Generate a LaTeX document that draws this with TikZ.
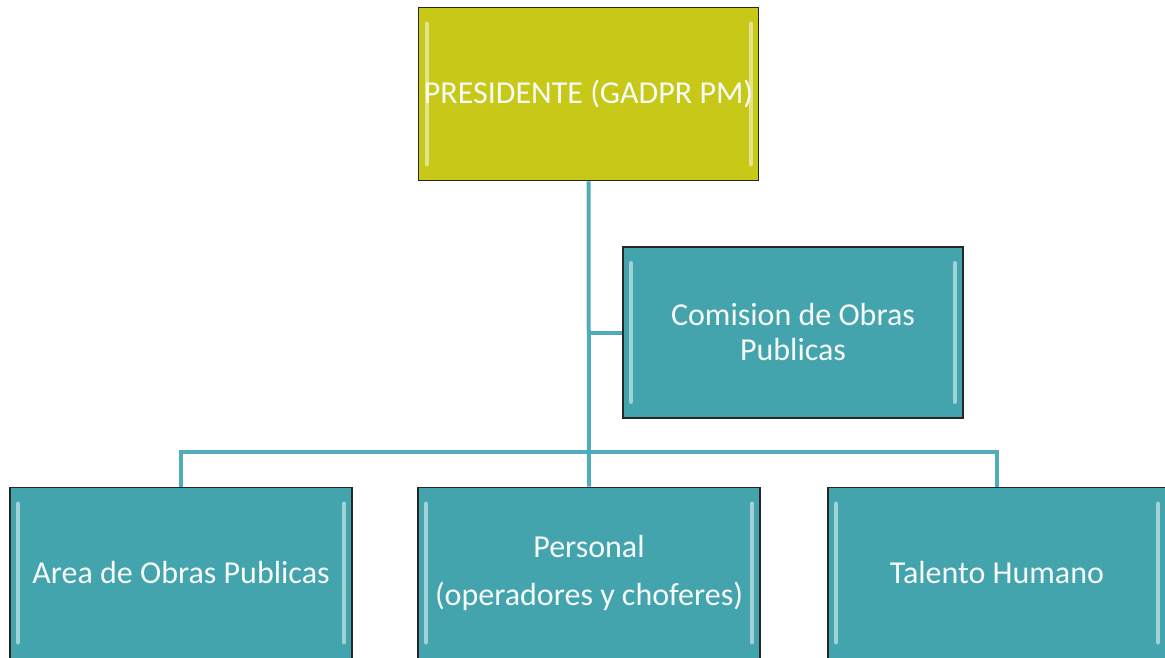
\documentclass[tikz,border=0pt]{standalone}
\usepackage{fontspec}
\setmainfont{Carlito}
\definecolor{presfill}{RGB}{200,200,24}
\definecolor{tealfill}{RGB}{68,164,174}
\definecolor{linecol}{RGB}{80,172,188}
\definecolor{txtcol}{RGB}{246,250,248}
\begin{document}
\begin{tikzpicture}[x=1pt,y=-1pt,
  orgbox/.style={draw=black!85, line width=1.8pt, rectangle, minimum height=171pt,
    text=txtcol, font=\fontsize{32}{35}\selectfont, align=center, inner sep=0pt,
    path picture={
      \draw[white!50!#1, line width=4pt, line cap=round]
        ([xshift=8pt,yshift=-16pt]path picture bounding box.north west) --
        ([xshift=8pt,yshift=16pt]path picture bounding box.south west);
      \draw[white!50!#1, line width=4pt, line cap=round]
        ([xshift=-8pt,yshift=-16pt]path picture bounding box.north east) --
        ([xshift=-8pt,yshift=16pt]path picture bounding box.south east);
    }, fill=#1},
  conn/.style={draw=linecol, line width=4pt}]
\useasboundingbox (0,0) rectangle (1165,658);
\node[orgbox=presfill, minimum width=340pt, minimum height=173pt] (pres) at (588.5,94) {PRESIDENTE (GADPR PM)};
\node[orgbox=tealfill, minimum width=340pt] (comi) at (793,332.5) {Comision de Obras\\Publicas};
\node[orgbox=tealfill, minimum width=342pt] (area) at (181,573) {Area de Obras Publicas};
\node[orgbox=tealfill, minimum width=342pt, font=\fontsize{32}{48}\selectfont] (pers) at (589,573) {Personal\\(operadores y choferes)};
\node[orgbox=tealfill, minimum width=338pt] (tal) at (997,573) {Talento Humano};
\coordinate (bus) at (589,452);
\draw[conn] (pres.south) -- (pers.north);
\draw[conn] (comi.west) -- (comi.west -| pres.south);
\draw[conn] (area.north) |- (bus) -| (tal.north);
\end{tikzpicture}
\end{document}
